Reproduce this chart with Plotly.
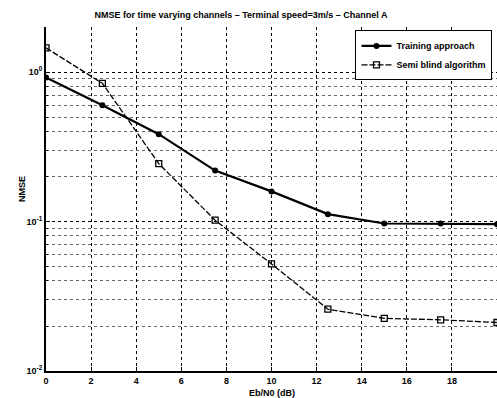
import plotly.graph_objects as go

snr_db = [0, 2.5, 5, 7.5, 10, 12.5, 15, 17.5, 20]
training = [0.92, 0.60, 0.384, 0.219, 0.159, 0.112, 0.097, 0.097, 0.096]
semi_blind = [1.45, 0.84, 0.244, 0.102, 0.052, 0.0259, 0.0225, 0.022, 0.0211]
x_ticks = [0, 2, 4, 6, 8, 10, 12, 14, 16, 18, 20]
y_tickvals = [1, 0.1, 0.01]
y_ticktext = ["10<sup>0</sup>", "10<sup>-1</sup>", "10<sup>-2</sup>"]

FONT = dict(family="Liberation Sans", size=9, color="black", weight="bold")

fig = go.Figure()
fig.add_trace(go.Scatter(
    x=snr_db, y=training, mode="lines+markers", name="Training approach",
    line=dict(color="black", width=2.2),
    marker=dict(symbol="circle", size=6, color="black"),
))
fig.add_trace(go.Scatter(
    x=snr_db, y=semi_blind, mode="lines+markers", name="Semi blind algorithm",
    line=dict(color="black", width=1.3, dash="6px,2px"),
    marker=dict(symbol="square-open", size=6, color="black", line=dict(width=1.3)),
))

fig.update_layout(
    width=497, height=398,
    margin=dict(l=46, r=0, t=27, b=27),
    paper_bgcolor="white", plot_bgcolor="white",
    font=FONT,
    title=dict(text="NMSE for time varying channels – Terminal speed=3m/s – Channel A",
               x=0.485, xanchor="center", y=0.962, yanchor="middle",
               font=dict(family="Liberation Sans", size=9, color="black", weight="bold")),
    showlegend=True,
    legend=dict(x=0.99, xanchor="right", y=0.99, yanchor="top",
                bgcolor="white", bordercolor="black", borderwidth=1,
                font=dict(family="Liberation Sans", size=9, color="black", weight="bold"),
                tracegroupgap=0, itemwidth=30),
)
fig.update_xaxes(
    range=[0, 20], tickvals=x_ticks, automargin=False,
    showline=True, linecolor="black", linewidth=2, mirror=False,
    showgrid=True, gridcolor="black", griddash="dot", gridwidth=1,
    ticks="inside", ticklen=4, tickcolor="black", zeroline=False,
    tickfont=FONT,
)
fig.update_yaxes(
    type="log", range=[-2, 0.30103], tickvals=y_tickvals, ticktext=y_ticktext,
    automargin=False,
    showline=True, linecolor="black", linewidth=2, mirror=False,
    showgrid=True, gridcolor="black", griddash="dot", gridwidth=1,
    ticks="inside", ticklen=4, tickcolor="black", zeroline=False,
    tickfont=FONT,
    minor=dict(dtick="D1", showgrid=True, gridcolor="rgba(0,0,0,0.6)", griddash="dot",
               gridwidth=1, ticks="inside", ticklen=2, tickcolor="black"),
)
fig.add_annotation(text="NMSE", xref="paper", yref="paper", x=-0.07, y=0.53,
                   showarrow=False, textangle=-90, font=FONT)
fig.add_annotation(text="Eb/N0 (dB)", xref="paper", yref="paper", x=0.5, y=-0.063,
                   xanchor="center", yanchor="middle", showarrow=False, font=FONT)

fig.write_html("out.html", config={"displayModeBar": False},
               post_script="document.body.style.margin='0px';document.body.style.overflow='hidden';")
